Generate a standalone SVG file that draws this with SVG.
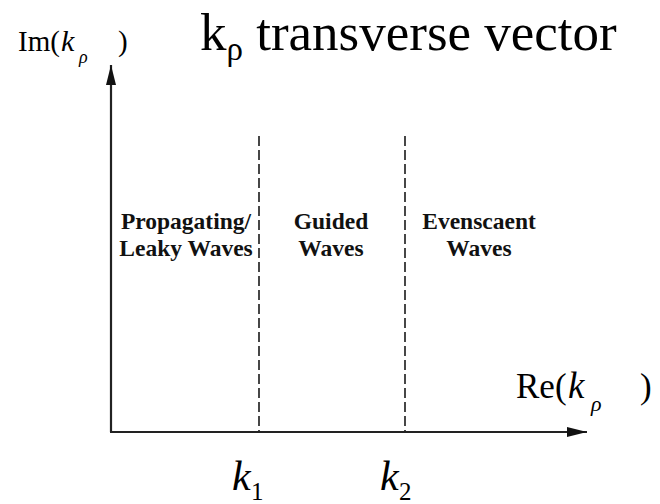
<svg xmlns="http://www.w3.org/2000/svg" width="660" height="504" viewBox="0 0 660 504">
<style>
text{font-family:'Liberation Serif','Times New Roman',serif;fill:#000}
.lbl{font-weight:bold;font-size:23.5px;fill:#111;text-anchor:middle}
.it{font-style:italic}
.axis{stroke:#222;stroke-width:2.2;fill:none}
.dash{stroke:#333;stroke-width:1.8;stroke-dasharray:10 4;fill:none}
</style>
<defs>
<marker id="arr" viewBox="0 0 20 10" refX="20" refY="5" markerWidth="20" markerHeight="10" markerUnits="userSpaceOnUse" orient="auto">
<path d="M0,0 L20,5 L0,10 Z" fill="#111"/>
</marker>
</defs>
<rect width="660" height="504" fill="#fff"/>
<g id="connectors">
<line class="axis" x1="111" y1="432" x2="111" y2="65" marker-end="url(#arr)"/>
<line class="axis" x1="110" y1="432" x2="587" y2="432" marker-end="url(#arr)"/>
<line class="dash" x1="259" y1="136" x2="259" y2="431"/>
<line class="dash" x1="405" y1="136" x2="405" y2="431"/>
</g>
<g id="title">
<text x="200" y="50" font-size="53">k<tspan font-size="33" dy="10">ρ</tspan><tspan dy="-10"> transverse vector</tspan></text>
</g>
<g id="im-label">
<text x="18" y="51" font-size="29">Im(</text>
<text class="it" x="61" y="51" font-size="30">k</text>
<text class="it" x="79" y="63" font-size="18">ρ</text>
<text x="118" y="51" font-size="29">)</text>
</g>
<g id="re-label">
<text x="516" y="398" font-size="35">Re(</text>
<text class="it" x="568" y="398" font-size="37">k</text>
<text class="it" x="591" y="411" font-size="22">ρ</text>
<text x="640" y="398" font-size="35">)</text>
</g>
<g id="k1">
<text class="it" x="232" y="490" font-size="42">k</text>
<text x="251" y="500" font-size="25">1</text>
</g>
<g id="k2">
<text class="it" x="380" y="490" font-size="42">k</text>
<text x="399" y="500" font-size="25">2</text>
</g>
<g id="region-propagating">
<text class="lbl" x="186" y="229">Propagating/</text>
<text class="lbl" x="186" y="256">Leaky Waves</text>
</g>
<g id="region-guided">
<text class="lbl" x="331" y="229">Guided</text>
<text class="lbl" x="331" y="256">Waves</text>
</g>
<g id="region-evanescent">
<text class="lbl" x="479" y="229">Evenscaent</text>
<text class="lbl" x="479" y="256">Waves</text>
</g>
</svg>
